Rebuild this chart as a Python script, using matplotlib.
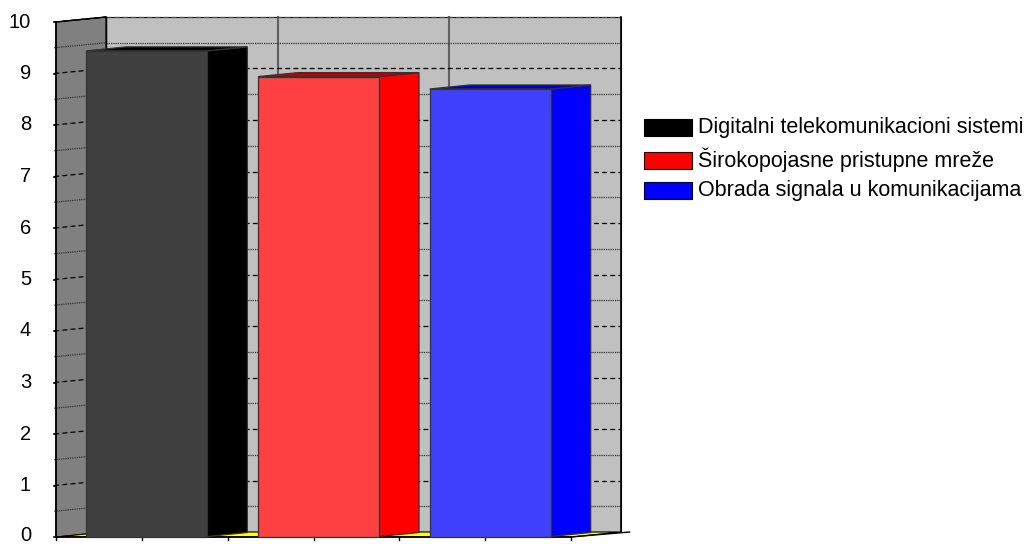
import numpy as np
import matplotlib.pyplot as plt
from matplotlib.patches import Polygon, Rectangle

# Prosjecne ocjene po predmetu
predmeti = ['Digitalni telekomunikacioni sistemi',
            'Širokopojasne pristupne mreže',
            'Obrada signala u komunikacijama']
ocjene = [9.43, 8.93, 8.69]
y_ticks = list(range(0, 11))

# boje: prednja strana, bocna strana, vrh
boje_front = ['#404040', '#FF4040', '#4040FF']
boje_side = ['#000000', '#FF0000', '#0000FF']
boje_top = ['#000000', '#C00000', '#0000C0']
boje_legenda = ['#000000', '#FF0000', '#0000FF']

plt.rcParams['font.family'] = ['Liberation Sans', 'DejaVu Sans']

W, H = 1031, 544
fig = plt.figure(figsize=(W / 100, H / 100), dpi=100)

# pixel skala: jedna kategorija = 171.67 px, jedna jedinica = 51.5 px
px_x, px_y = 171.67, 51.5
x0_px, y0_px = 56, 537
ax = fig.add_axes([x0_px / W, (H - y0_px) / H, (640 - x0_px) / W, (y0_px - 10) / H])
ax.set_xlim(0, (640 - x0_px) / px_x)
ax.set_ylim(0, (y0_px - 10) / px_y)
ax.axis('off')

n = len(ocjene)
ymax = 10
# vektor dubine (3D pomak prema nazad)
Dx, Dy = 50 / px_x, 5 / px_y


def poly(pts, fc, ec='black', lw=0.8, z=1):
    ax.add_patch(Polygon(pts, closed=True, facecolor=fc, edgecolor=ec,
                         linewidth=lw, zorder=z, clip_on=False))


# zadnji zid i lijevi zid
poly([(Dx, Dy), (n + Dx, Dy), (n + Dx, ymax + Dy), (Dx, ymax + Dy)], '#C0C0C0', z=1)
poly([(0, 0), (Dx, Dy), (Dx, ymax + Dy), (0, ymax)], '#808080', z=1)

# vertikalne linije na zadnjem zidu izmedju kategorija
for k in range(1, n):
    ax.plot([k + Dx, k + Dx], [Dy, ymax + Dy], color='#606060', lw=1.5, zorder=2, clip_on=False)

# horizontalne linije mreze (pune jedinice isprekidano, polovine tackasto)
for v in np.arange(0, ymax + 0.01, 0.5):
    major = float(v).is_integer()
    ls = (0, (4, 2.5)) if major else (0, (1, 0.8))
    col = 'black' if major else '#303030'
    if 0 < v < ymax:
        ax.plot([Dx, n + Dx], [v + Dy, v + Dy], ls=ls, color=col, lw=0.9, zorder=2, clip_on=False)
    if v > 0:
        ax.plot([-0.01, Dx], [v, v + Dy], ls=ls, color=col, lw=0.9, zorder=2, clip_on=False)
ax.plot([Dx, n + Dx], [ymax + Dy, ymax + Dy], ls=(0, (4, 2.5)), color='#505050', lw=0.9, zorder=2)

# ivice zidova
ax.plot([0, 0], [0, ymax], color='black', lw=1.2, zorder=3, clip_on=False)
ax.plot([0, Dx], [ymax, ymax + Dy], color='black', lw=1.0, zorder=3, clip_on=False)
ax.plot([Dx, Dx], [Dy, ymax + Dy], color='black', lw=1.0, zorder=3, clip_on=False)
ax.plot([n + Dx, n + Dx], [Dy, ymax + Dy], color='black', lw=1.2, zorder=3, clip_on=False)

# pod
poly([(0, 0), (n, 0), (n + Dx, Dy), (Dx, Dy)], '#FFFF00', z=3)
ax.plot([0, n], [0, 0], color='black', lw=1.2, zorder=3, clip_on=False)
ax.plot([n, n + Dx + 0.05], [0, Dy], color='black', lw=1.0, zorder=3, clip_on=False)

# oznake na osi y (nula malo podignuta da ne izlazi iz slike)
for v in y_ticks:
    ax.plot([-0.012, 0], [v, v], color='black', lw=1.2, zorder=4, clip_on=False)
    ty = v if v > 0 else 0.03
    ax.text(-25 / px_x, ty, str(v), ha='right', va='center', fontsize=14.5, color='black')

# oznake na osi x
for t in np.arange(0, n + 0.01, 0.5):
    ax.plot([t, t], [0, -0.06], color='black', lw=1.0, zorder=4, clip_on=False)

# stubici
gap, w = 0.1475, 0.705
d0, d1 = 0.1, 0.9
for i, v in enumerate(ocjene):
    xa = i + gap
    xb = xa + w
    fx, fy = d0 * Dx, d0 * Dy
    bx, by = d1 * Dx, d1 * Dy
    ec = '#333333'
    poly([(xb + fx, fy), (xb + bx, by), (xb + bx, v + by), (xb + fx, v + fy)],
         boje_side[i], ec=ec, lw=0.9, z=5)
    poly([(xa + fx, v + fy), (xb + fx, v + fy), (xb + bx, v + by), (xa + bx, v + by)],
         boje_top[i], ec=ec, lw=0.9, z=5)
    poly([(xa + fx, fy), (xb + fx, fy), (xb + fx, v + fy), (xa + fx, v + fy)],
         boje_front[i], ec=ec, lw=0.9, z=6)

# legenda
redovi = [127, 160, 190.5]
for naziv, boja, yc in zip(predmeti, boje_legenda, redovi):
    fig.patches.append(Rectangle((644 / W, (H - yc - 8.5) / H), 48 / W, 17 / H,
                                 facecolor=boja, edgecolor='black', linewidth=0.8,
                                 transform=fig.transFigure, figure=fig))
    fig.text(698 / W, (H - yc) / H, naziv, ha='left', va='center', fontsize=15.5, color='black')

fig.savefig('out.png', dpi=100)
